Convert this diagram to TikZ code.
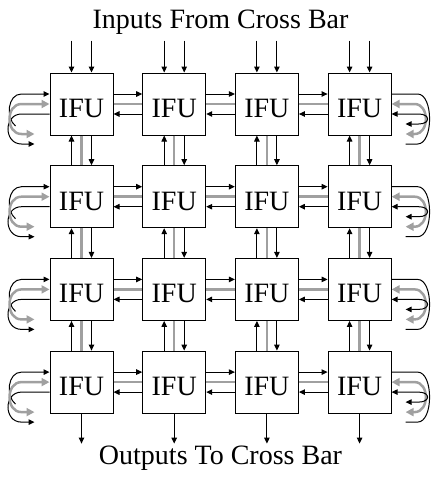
\documentclass[tikz,border=0pt]{standalone}
\usepackage{fontspec}
\setmainfont{Liberation Serif}
\usetikzlibrary{arrows.meta,calc}
\definecolor{barg}{RGB}{160,160,160}
\begin{document}
\begin{tikzpicture}[x=1pt,y=-1pt,
  ifu/.style={draw,line width=1pt,minimum width=63pt,minimum height=62pt,inner sep=0pt,
    text height=27pt,text depth=0pt,font=\fontsize{28}{30}\selectfont},
  lbl/.style={anchor=base,inner sep=0pt,font=\fontsize{28}{30}\selectfont},
  blkline/.style={line width=1pt},
  blk/.style={blkline,-{Triangle[length=6pt,width=5.5pt]}},
  blkboth/.style={blkline,{Triangle[length=6pt,width=5.5pt]}-{Triangle[length=6pt,width=5.5pt]}},
  gry/.style={line width=2.5pt,draw=barg},
  gryboth/.style={gry,{Triangle[length=8pt,width=8pt]}-{Triangle[length=8pt,width=8pt]}}
]
\useasboundingbox (0,0) rectangle (432,477);
\node[lbl] (intitle) at (220.5,28) {Inputs From Cross Bar};
\node[lbl] (outtitle) at (220.5,464) {Outputs To Cross Bar};
% boxes
\foreach \r in {1,...,4}{
  \foreach \c in {1,...,4}{
    \node[ifu] (b\r\c) at ({81.5+92.7*(\c-1)},{104+92.7*(\r-1)}) {IFU};
  }
}
% horizontal links
\foreach \r in {1,...,4}{
  \foreach \c [evaluate=\c as \n using int(\c+1)] in {1,2,3}{
    \draw[blk] ($(b\r\c.east)+(0,-10)$) -- ($(b\r\n.west)+(0,-10)$);
    \draw[gry] (b\r\c.east) -- (b\r\n.west);
    \draw[blk] ($(b\r\n.west)+(0,10)$) -- ($(b\r\c.east)+(0,10)$);
  }
}
% vertical links
\foreach \r [evaluate=\r as \n using int(\r+1)] in {1,2,3}{
  \foreach \c in {1,...,4}{
    \draw[blk] ($(b\n\c.north)+(-10,0)$) -- ($(b\r\c.south)+(-10,0)$);
    \draw[gry] (b\r\c.south) -- (b\n\c.north);
    \draw[blk] ($(b\r\c.south)+(10,0)$) -- ($(b\n\c.north)+(10,0)$);
  }
}
% inputs and outputs
\foreach \c in {1,...,4}{
  \coordinate (ina\c) at ($(b1\c.north)+(-10,-32)$);
  \coordinate (inb\c) at ($(b1\c.north)+(10,-32)$);
  \coordinate (out\c) at ($(b4\c.south)+(0,30)$);
  \draw[blk] (ina\c) -- ($(b1\c.north)+(-10,0)$);
  \draw[blk] (inb\c) -- ($(b1\c.north)+(10,0)$);
  \draw[blk] (b4\c.south) -- (out\c);
}
% left loops
\foreach \r in {1,...,4}{
  \draw[blk] ($(b\r1.west)+(0,10)$) -- ++(-28,0) .. controls +(-18,0) and +(-18,0) .. ++(0,30) -- ++(13,0);
  \draw[blk] ($(b\r1.west)+(-34,22)$) .. controls +(-10,-8) and +(-14,0) .. ($(b\r1.west)+(-28,-10)$) -- ($(b\r1.west)+(0,-10)$);
  \draw[gryboth] ($(b\r1.west)+(-15,30)$) -- ++(-13,0) .. controls +(-16,0) and +(-16,0) .. ++(0,-30) -- (b\r1.west);
}
% right loops
\foreach \r in {1,...,4}{
  \draw[blkline] ($(b\r4.east)+(0,-10)$) -- ++(26,0) .. controls +(16,0) and +(16,0) .. ++(0,50) -- ++(-12,0);
  \draw[gryboth] ($(b\r4.east)+(14,30)$) -- ++(9,0) .. controls +(15,0) and +(15,0) .. ++(0,-30) -- (b\r4.east);
  \draw[blkboth] ($(b\r4.east)+(14,20)$) -- ++(13,0) .. controls +(12,0) and +(12,0) .. ++(0,-10) -- ($(b\r4.east)+(0,10)$);
}
\end{tikzpicture}
\end{document}
